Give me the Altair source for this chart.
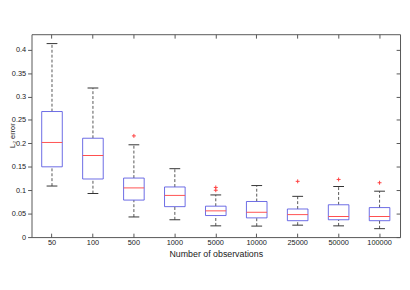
import altair as alt
import pandas as pd

cats = ["50", "100", "500", "1000", "5000", "10000", "25000", "50000", "100000"]
wlo = [0.109, 0.093, 0.043, 0.037, 0.024, 0.0235, 0.0255, 0.024, 0.018]
q1 = [0.150, 0.124, 0.079, 0.065, 0.046, 0.041, 0.035, 0.037, 0.035]
med = [0.202, 0.174, 0.105, 0.089, 0.056, 0.053, 0.048, 0.044, 0.044]
q3 = [0.268, 0.211, 0.126, 0.107, 0.066, 0.076, 0.060, 0.069, 0.063]
whi = [0.413, 0.318, 0.197, 0.146, 0.090, 0.110, 0.087, 0.108, 0.098]

out_cat = ["500", "5000", "5000", "25000", "50000", "100000"]
out_val = [0.216, 0.106, 0.100, 0.119, 0.123, 0.116]

ytick_vals = [0, 0.05, 0.1, 0.15, 0.2, 0.25, 0.3, 0.35, 0.4]

df = pd.DataFrame({"cat": cats, "wlo": wlo, "q1": q1, "med": med, "q3": q3, "whi": whi})
dfo = pd.DataFrame({"cat": out_cat, "val": out_val})

FONT = "Liberation Sans"
xscale = alt.Scale(domain=cats, paddingInner=0, paddingOuter=0)
yscale = alt.Scale(domain=[0, 0.433], nice=False, zero=False)

def xax(**kw):
    base = dict(grid=False, domain=False, labelFont=FONT, titleFont=FONT)
    base.update(kw)
    return alt.Axis(**base)

# main axes: bottom labels + title, left labels + outward ticks
x_main = xax(orient="bottom", ticks=False, labelPadding=2, labelFontSize=7.5,
             labelColor="#222", labelAngle=0, labelBaseline="top",
             title="Number of observations", titleFontSize=9, titleFontWeight="normal",
             titleColor="#222", titleY=17, titleBaseline="middle")
y_main = xax(orient="left", values=ytick_vals, format=".2~f", tickSize=4, tickColor="#555",
             labelPadding=2, labelFontSize=7.5, labelColor="#222",
             title="L\u2082 error", titleFontSize=7.5, titleFontWeight="normal", titleColor="#222",
             titleX=-19.5, titleY=103, titleBaseline="middle", titleAngle=-90)

# inward ticks
x_top = xax(orient="top", offset=-4, tickSize=4, tickColor="#555", labels=False, title=None)
y_right = xax(orient="right", values=ytick_vals, offset=-4, tickSize=4, tickColor="#555",
              labels=False, title=None)
x_bot_in = xax(orient="bottom", offset=-4, tickSize=4, tickColor="#555", labels=False, title=None)

upper = alt.Chart(df).mark_rule(color="#555", strokeDash=[3, 2], strokeWidth=1).encode(
    x=alt.X("cat:N", sort=cats, scale=xscale, axis=x_main),
    y=alt.Y("q3:Q", scale=yscale, axis=y_main),
    y2="whi:Q",
)
lower = alt.Chart(df).mark_rule(color="#555", strokeDash=[3, 2], strokeWidth=1).encode(
    x=alt.X("cat:N", sort=cats, scale=xscale, axis=x_top),
    y=alt.Y("wlo:Q", scale=yscale, axis=y_right),
    y2="q1:Q",
)
boxes = alt.Chart(df).mark_bar(width=21, fill="white", stroke="#5050e0", strokeWidth=1,
                               strokeOpacity=0.85).encode(
    x=alt.X("cat:N", sort=cats, scale=xscale, axis=x_bot_in),
    y=alt.Y("q1:Q", scale=yscale, axis=None),
    y2="q3:Q",
)
medians = alt.Chart(df).mark_tick(size=21, thickness=1, color="#ff5050", opacity=1).encode(
    x=alt.X("cat:N", sort=cats, scale=xscale, axis=None),
    y=alt.Y("med:Q", scale=yscale, axis=None),
)
cap_hi = alt.Chart(df).mark_tick(size=11, thickness=1, color="#333", opacity=1).encode(
    x=alt.X("cat:N", sort=cats, scale=xscale, axis=None),
    y=alt.Y("whi:Q", scale=yscale, axis=None),
)
cap_lo = alt.Chart(df).mark_tick(size=11, thickness=1, color="#333", opacity=1).encode(
    x=alt.X("cat:N", sort=cats, scale=xscale, axis=None),
    y=alt.Y("wlo:Q", scale=yscale, axis=None),
)
outs = alt.Chart(dfo).mark_point(shape="M-1,0H1M0,-1V1", size=16, filled=False,
                                 stroke="#ff4040", strokeWidth=1, opacity=1).encode(
    x=alt.X("cat:N", sort=cats, scale=xscale, axis=None),
    y=alt.Y("val:Q", scale=yscale, axis=None),
)

chart = alt.layer(upper, lower, boxes, medians, cap_hi, cap_lo, outs).resolve_axis(
    x="independent", y="independent"
).properties(
    width=376, height=207,
    autosize=alt.AutoSizeParams(type="none"),
    padding={"left": 24, "top": 24, "right": 2, "bottom": 40},
    background="white",
).configure_view(stroke="#555", strokeWidth=1)

chart.save("out.html", embed_options={"renderer": "svg", "actions": False})
